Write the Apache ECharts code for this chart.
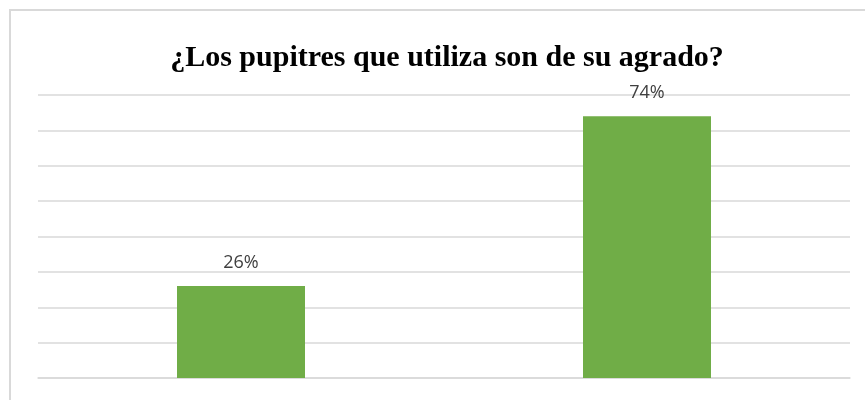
<!DOCTYPE html>
<html>
<head>
<meta charset="utf-8">
<script src="https://cdn.jsdelivr.net/npm/echarts@6/dist/echarts.min.js"></script>
<style>html,body{margin:0;padding:0;background:#fff}#c{width:865px;height:400px}</style>
</head>
<body>
<div id="c"></div>
<script>
const categories = ['Sí', 'No'];
const values = [26, 74];
const titleText = '¿Los pupitres que utiliza son de su agrado?';

const chart = echarts.init(document.getElementById('c'), null, {renderer: 'canvas'});
chart.setOption({
  animation: false,
  backgroundColor: '#ffffff',
  title: {
    text: titleText,
    left: 442, textAlign: 'center',
    top: 38,
    textStyle: {fontFamily: 'Liberation Serif', fontWeight: 'bold', fontSize: 30, color: '#000000'}
  },
  graphic: [{
    type: 'rect',
    shape: {x: 10, y: 10, width: 900, height: 450},
    style: {fill: 'none', stroke: '#d9d9d9', lineWidth: 2},
    silent: true, z: -1
  }],
  grid: {left: 38, right: 15, top: 95, bottom: 22, containLabel: false},
  xAxis: {
    type: 'category',
    data: categories,
    axisLine: {show: true, lineStyle: {color: '#d9d9d9', width: 1.5}},
    axisTick: {show: false},
    axisLabel: {show: false}
  },
  yAxis: {
    type: 'value', min: 0, max: 80, interval: 10,
    axisLine: {show: false}, axisTick: {show: false}, axisLabel: {show: false},
    splitLine: {lineStyle: {color: '#d9d9d9', width: 1.5}}
  },
  series: [{
    type: 'bar',
    data: values,
    barWidth: 128,
    itemStyle: {color: '#70ad47'},
    label: {
      show: true, position: 'top', distance: 14,
      formatter: p => p.value + '%',
      fontFamily: 'Open Sans', fontSize: 18, color: '#404040'
    }
  }]
});
</script>
</body>
</html>
